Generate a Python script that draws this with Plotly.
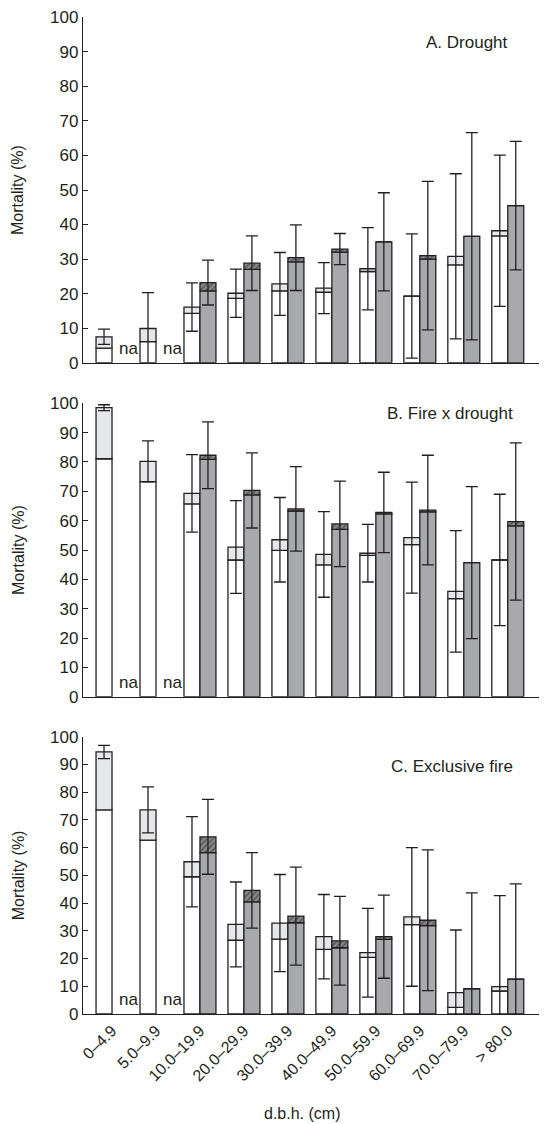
import plotly.graph_objects as go

categories = ["0–4.9", "5.0–9.9", "10.0–19.9", "20.0–29.9", "30.0–39.9",
              "40.0–49.9", "50.0–59.9", "60.0–69.9", "70.0–79.9", "> 80.0"]

# Panel A. Drought
a_white_base = [4.2, 6.1, 14.3, 18.6, 20.8, 20.4, 26.4, 19.3, 28.3, 36.7]
a_white_tot = [7.5, 9.9, 16.1, 20.1, 22.8, 21.6, 27.2, 19.3, 30.8, 38.2]
a_white_err = [2.2, 10.4, 7.0, 7.0, 9.1, 7.4, 11.9, 18.0, 23.9, 21.9]
a_gray_base = [None, None, 20.8, 27.0, 29.2, 32.0, 35.0, 30.0, 36.6, 45.5]
a_gray_tot = [None, None, 23.2, 28.8, 30.4, 32.9, 35.0, 31.0, 36.6, 45.5]
a_gray_err = [None, None, 6.5, 7.9, 9.5, 4.5, 14.2, 21.5, 30.0, 18.6]

# Panel B. Fire x drought
b_white_base = [81.1, 73.3, 65.7, 46.6, 49.9, 44.9, 48.2, 51.8, 33.4, 46.6]
b_white_tot = [98.5, 80.2, 69.3, 51.0, 53.5, 48.5, 48.9, 54.2, 35.9, 46.6]
b_white_err = [1.0, 7.0, 13.2, 15.8, 14.4, 14.6, 9.8, 18.9, 20.7, 22.4]
b_gray_base = [None, None, 80.9, 68.8, 63.3, 57.0, 62.3, 63.0, 45.7, 58.2]
b_gray_tot = [None, None, 82.3, 70.3, 64.0, 58.9, 62.8, 63.6, 45.7, 59.7]
b_gray_err = [None, None, 11.4, 12.8, 14.4, 14.6, 13.7, 18.7, 25.9, 26.8]

# Panel C. Exclusive fire
c_white_base = [73.6, 62.7, 49.5, 26.6, 27.0, 23.3, 20.4, 32.2, 2.4, 8.3]
c_white_tot = [94.5, 73.6, 54.9, 32.3, 32.8, 27.9, 22.1, 35.0, 7.7, 9.9]
c_white_err = [2.4, 8.3, 16.3, 15.3, 17.5, 15.2, 16.0, 25.0, 22.6, 32.8]
c_gray_base = [None, None, 58.2, 40.4, 32.9, 23.9, 26.9, 31.9, 9.1, 12.6]
c_gray_tot = [None, None, 63.9, 44.6, 35.3, 26.4, 27.9, 33.8, 9.1, 12.6]
c_gray_err = [None, None, 13.5, 13.6, 17.7, 16.0, 15.0, 25.4, 34.6, 34.3]

panel_titles = ["A. Drought", "B. Fire x drought", "C. Exclusive fire"]

panels = [
    (a_white_base, a_white_tot, a_white_err, a_gray_base, a_gray_tot, a_gray_err),
    (b_white_base, b_white_tot, b_white_err, b_gray_base, b_gray_tot, b_gray_err),
    (c_white_base, c_white_tot, c_white_err, c_gray_base, c_gray_tot, c_gray_err),
]

W, H = 547, 1124
ML, MR, MT, MB = 83, 8, 17, 110
PH = H - MT - MB
PW = W - ML - MR

def py(p):  # pixel y -> paper
    return (H - MB - p) / PH

def px(p):
    return (p - ML) / PW

domains = [(py(362.7), py(17.3)), (py(696.7), py(403.3)), (0.0, py(736.7))]

OUT = "#231f20"
GRAY = "#a7a9ac"
LIGHT = "#e6e7e8"
FONT = "Liberation Sans, Arial, sans-serif"

fig = go.Figure()

for i, (wb, wt, we, gb, gt, ge) in enumerate(panels):
    xa = "x" if i == 0 else f"x{i+1}"
    ya = "y" if i == 0 else f"y{i+1}"
    wtop = [t - b for t, b in zip(wt, wb)]
    gtop = [None if t is None else t - b for t, b in zip(gt, gb)]
    line = dict(color=OUT, width=1.3)
    err_style = dict(type="data", symmetric=True, color=OUT, thickness=1.3, width=6, visible=True)
    fig.add_trace(go.Bar(x=categories, y=wb, offsetgroup="w", marker=dict(color="white", line=line),
                         xaxis=xa, yaxis=ya, showlegend=False))
    fig.add_trace(go.Bar(x=categories, y=wtop, base=wb, offsetgroup="w",
                         marker=dict(color=LIGHT, line=line),
                         error_y=dict(array=we, **err_style),
                         xaxis=xa, yaxis=ya, showlegend=False))
    fig.add_trace(go.Bar(x=categories, y=gb, offsetgroup="g", marker=dict(color=GRAY, line=line),
                         xaxis=xa, yaxis=ya, showlegend=False))
    fig.add_trace(go.Bar(x=categories, y=gtop, base=gb, offsetgroup="g",
                         marker=dict(color="#5a5a5c", line=line,
                                     pattern=dict(shape="/", fgcolor="#2a2a2a", bgcolor="#8a8a8c",
                                                  size=4, solidity=0.45)),
                         error_y=dict(array=ge, **err_style),
                         xaxis=xa, yaxis=ya, showlegend=False))

layout = dict(
    width=W, height=H,
    margin=dict(l=ML, r=MR, t=MT, b=MB),
    paper_bgcolor="white", plot_bgcolor="white",
    barmode="group", bargap=0.273, bargroupgap=0,
    font=dict(family=FONT, size=16, color="#231f20"),
)

for i in range(3):
    xk = "xaxis" if i == 0 else f"xaxis{i+1}"
    yk = "yaxis" if i == 0 else f"yaxis{i+1}"
    layout[xk] = dict(
        type="category", range=[-0.66, 9.71], domain=[0, 1],
        anchor="y" if i == 0 else f"y{i+1}",
        showline=True, linecolor=OUT, linewidth=1.3, ticks="",
        showgrid=False, zeroline=False,
        showticklabels=(i == 2), tickangle=-45,
        tickfont=dict(family=FONT, size=16, color=OUT),
    )
    layout[yk] = dict(
        range=[0, 100], dtick=10, domain=list(domains[i]),
        anchor="x" if i == 0 else f"x{i+1}",
        showline=True, linecolor=OUT, linewidth=1.3,
        ticks="inside", ticklen=5, tickwidth=1.3, tickcolor=OUT,
        showgrid=False, zeroline=False,
        tickfont=dict(family=FONT, size=17, color=OUT),
    )

fig.update_layout(**layout)

ann = []
title_pos = [(467, 42), (450, 413), (452, 766)]
for t, (cx, cy) in zip(panel_titles, title_pos):
    ann.append(dict(text=t, x=px(cx), y=py(cy), xref="paper", yref="paper",
                    showarrow=False, xanchor="center", yanchor="middle",
                    font=dict(family=FONT, size=17, color=OUT)))
for (y0, y1) in domains:
    ann.append(dict(text="Mortality (%)", x=px(18), y=(y0 + y1) / 2, xref="paper", yref="paper",
                    showarrow=False, textangle=-90, xanchor="center", yanchor="middle",
                    font=dict(family=FONT, size=16, color=OUT)))
for i in range(3):
    xa = "x" if i == 0 else f"x{i+1}"
    ya = "y" if i == 0 else f"y{i+1}"
    for c in categories[:2]:
        ann.append(dict(text="na", x=c, y=0, xref=xa, yref=ya, showarrow=False,
                        xanchor="center", yanchor="bottom", xshift=16, yshift=3,
                        font=dict(family=FONT, size=17, color=OUT)))
ann.append(dict(text="d.b.h. (cm)", x=px(302), y=py(1113), xref="paper", yref="paper",
                showarrow=False, xanchor="center", yanchor="middle",
                font=dict(family=FONT, size=16, color=OUT)))
fig.update_layout(annotations=ann)

fig.write_html("out.html")
